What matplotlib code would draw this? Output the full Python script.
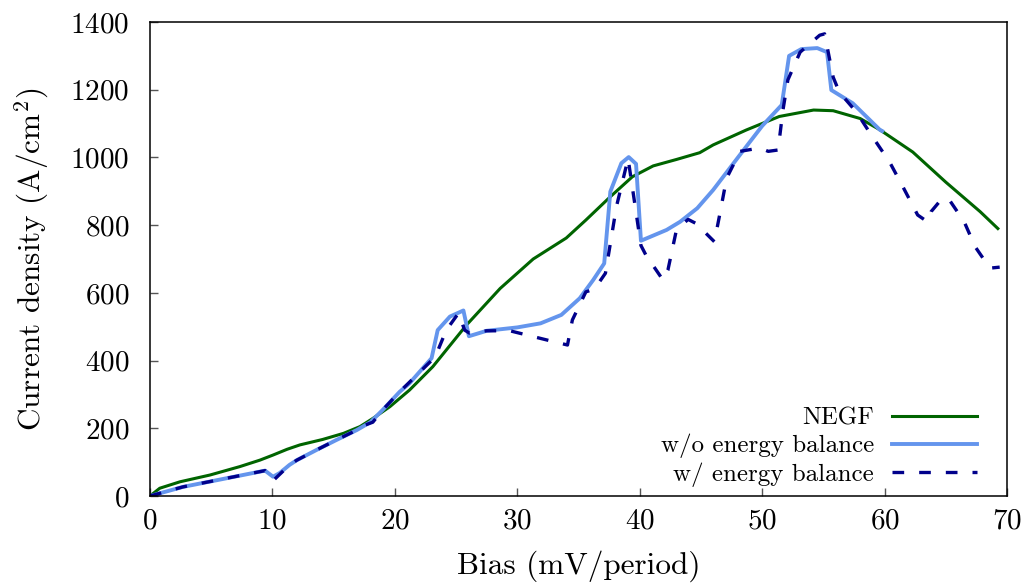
#Current density vs bias: NEGF against the two rate-equation models
import numpy as np
import matplotlib
matplotlib.use('Agg')
import matplotlib.pyplot as plt

#Values
negf_bias = [0, 0.8, 2.45, 4.9, 7.35, 8.98, 10.05, 11.2, 12.25, 14.1, 15.8, 17.15, 18.2,
             19.6, 21.2, 23.1, 25.85, 28.6, 31.3, 34.0, 35.6, 37.6, 39.4, 41.1, 43.0, 44.9,
             46.0, 48.7, 51.4, 54.2, 55.8, 58.0, 59.6, 62.3, 65.0, 67.8, 69.25]
negf_current = [0, 23, 42, 62, 87, 106, 121, 138, 151, 167, 185, 205, 229, 264, 313, 382,
                505, 613, 700, 762, 815, 884, 943, 975, 994, 1014, 1037, 1081, 1121, 1140,
                1138, 1115, 1082, 1016, 927, 840, 790]

noeb_bias = [0, 2.7, 5.5, 9.4, 10.05, 10.6, 11.4, 12, 13.6, 15.2, 16.9, 18, 19.0, 20.4,
             21.2, 23.0, 23.5, 24.5, 25.6, 26.05, 27.5, 30, 31.9, 33.6, 35.1, 36.2, 37.1,
             37.6, 38.5, 39.1, 39.7, 40.1, 42.2, 43.3, 44.7, 46.0, 48.7, 50, 51.6, 52.2,
             53.2, 54.5, 55.3, 55.65, 57.4, 59.6, 59.8]
noeb_current = [0, 27, 47, 75, 57, 68, 92, 106, 136, 165, 195, 218, 254, 308, 333, 407, 490,
                530, 548, 472, 488, 498, 510, 535, 584, 638, 687, 899, 983, 1001, 981, 754,
                786, 810, 850, 904, 1032, 1093, 1155, 1300, 1320, 1323, 1311, 1199, 1160,
                1082, 1078]

eb_bias = [0, 2.7, 5.5, 9.4, 10.05, 11.4, 12, 13.6, 15.2, 16.9, 17.6, 18.2, 19.0, 20.4,
           23.3, 24.2, 25.2, 25.7, 26.1, 27.5, 29.4, 32.4, 34.1, 34.5, 35.6, 36.3, 37.2,
           38.1, 39.05, 40.1, 40.5, 41.9, 42.3, 43.0, 43.95, 44.6, 46.1, 46.5, 47.1, 48.2,
           49.8, 50.5, 51.3, 51.7, 52.1, 53.1, 54.7, 55.1, 55.8, 56.3, 57.7, 58.9, 60.4,
           61.5, 62.7, 63.5, 63.8, 64.7, 65.3, 66.5, 67.4, 68.6, 69.4]
eb_current = [0, 27, 47, 75, 45, 92, 106, 136, 165, 195, 210, 218, 254, 308, 411, 490, 540,
              490, 481, 488, 488, 461, 446, 520, 603, 611, 658, 855, 997, 740, 712, 638, 667,
              786, 817, 805, 751, 825, 939, 1018, 1028, 1018, 1022, 1140, 1229, 1311, 1361,
              1365, 1237, 1193, 1134, 1067, 987, 913, 830, 810, 840, 879, 874, 810, 736,
              673, 676]

x_ticks = [0, 10, 20, 30, 40, 50, 60, 70]
y_ticks = [0, 200, 400, 600, 800, 1000, 1200, 1400]

#Computer Modern look, like the LaTeX terminal output
plt.rcParams['font.family'] = ['cmr10']
plt.rcParams['mathtext.fontset'] = 'cm'
plt.rcParams['axes.formatter.use_mathtext'] = True

fig = plt.figure(figsize=(10.3, 5.87), dpi=100)
ax = fig.add_axes([0.1456, 0.155, 0.8321, 0.8075])

ax.plot(negf_bias, negf_current, color='#006400', lw=2.2, label='NEGF')
ax.plot(noeb_bias, noeb_current, color='#6495ED', lw=2.8, label='w/o energy balance')
ax.plot(eb_bias, eb_current, color='#00008B', lw=2.4, linestyle=(0, (3.5, 4.5)),
        label='w/ energy balance')

ax.set_xlim(0, 70)
ax.set_ylim(0, 1400)
ax.set_xticks(x_ticks)
ax.set_yticks(y_ticks)
ax.tick_params(direction='in', length=6, width=1, color='#555555', labelsize=21)
ax.tick_params(axis='y', pad=15)
ax.tick_params(axis='x', pad=9)
for s in ax.spines.values():
    s.set_linewidth(1.1)

ax.set_xlabel('Bias (mV/period)', fontsize=22.5, labelpad=11)
ax.set_ylabel(r'Current density (A/cm$^2$)', fontsize=22.5, labelpad=14)

leg = ax.legend(loc='lower right', bbox_to_anchor=(0.985, -0.018), frameon=False,
                markerfirst=False, fontsize=18, handlelength=3.4, handletextpad=0.7,
                labelspacing=0.17, borderpad=0.2)

plt.savefig('out.png', dpi=100)
